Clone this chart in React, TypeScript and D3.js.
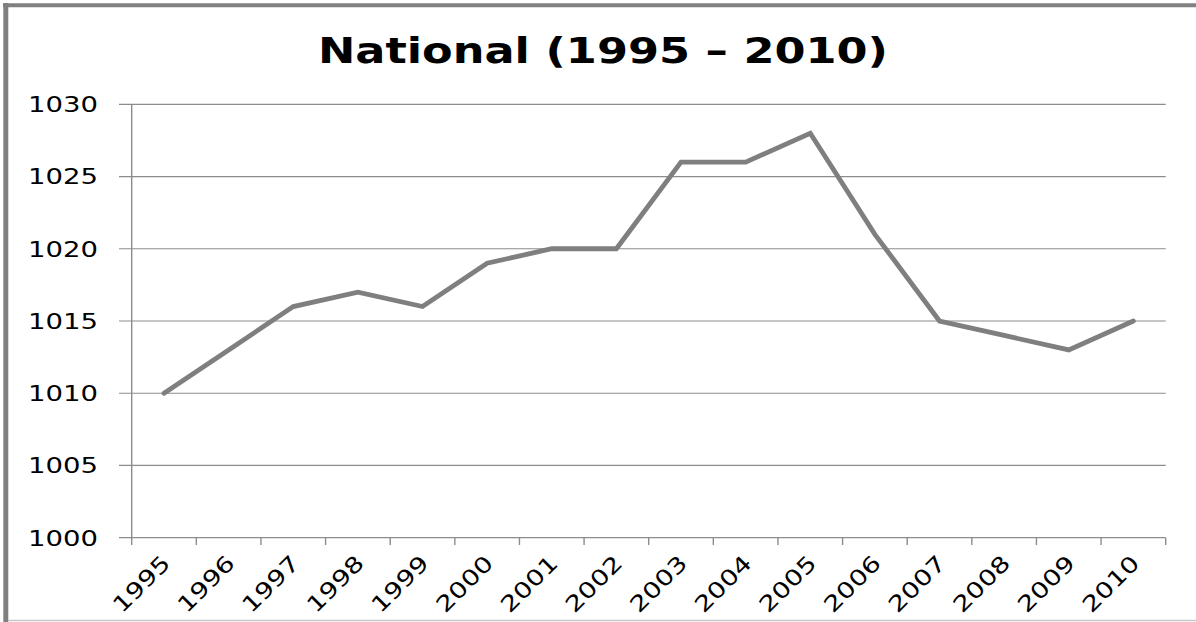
import React from "react";
import * as d3 from "d3";

const years = ["1995","1996","1997","1998","1999","2000","2001","2002","2003","2004","2005","2006","2007","2008","2009","2010"];
const values = [1010,1013,1016,1017,1016,1019,1020,1020,1026,1026,1028,1021,1015,1014,1013,1015];
const yTicks = [1000,1005,1010,1015,1020,1025,1030];
const title = "National (1995 \u2013 2010)";

export default function App() {
  const W = 1196, H = 622;
  const left = 131.7, right = 1165.7, top = 104.3, bottom = 537.7;
  const x = d3.scaleBand<string>().domain(years).range([left, right]).paddingInner(0).paddingOuter(0);
  const y = d3.scaleLinear().domain([1000, 1030]).range([bottom, top]);
  const line = d3.line<number>()
    .x((_, i) => (x(years[i]) as number) + x.bandwidth() / 2)
    .y((d) => y(d));
  const boundaries = years.map((yr) => x(yr) as number).concat([right]);
  const font = "'DejaVu Sans', Verdana, sans-serif";
  return (
    <svg width={W} height={H} style={{ position: "fixed", left: 0, top: 0, background: "#fff" }}>
      <rect x={0} y={0} width={W} height={H} fill="#fff" />
      {/* frame */}
      <line x1={3} x2={W} y1={5.3} y2={5.3} stroke="#808080" strokeWidth={4} />
      <line x1={5.8} x2={5.8} y1={3} y2={H} stroke="#808080" strokeWidth={5} />
      <line x1={8} x2={W} y1={620.5} y2={620.5} stroke="#c8c8c8" strokeWidth={1.5} />
      {/* title */}
      <text x={603} y={63} textAnchor="middle" fontFamily={font} fontWeight="bold" fontSize={36}
        textLength={570} lengthAdjust="spacingAndGlyphs" fill="#000">{title}</text>
      {/* gridlines and y ticks */}
      {yTicks.map((t) => (
        <g key={t}>
          <line x1={119} x2={right} y1={y(t)} y2={y(t)} stroke="#8c8c8c" strokeWidth={1.2} />
          <text x={98} y={y(t)} dy="0.36em" textAnchor="end" fontFamily={font} fontSize={22}
            textLength={70} lengthAdjust="spacingAndGlyphs" fill="#000">{t}</text>
        </g>
      ))}
      {/* y axis */}
      <line x1={left} x2={left} y1={top} y2={bottom} stroke="#8c8c8c" strokeWidth={1.4} />
      {/* x tick marks */}
      {boundaries.map((b, i) => (
        <line key={i} x1={b} x2={b} y1={bottom} y2={545} stroke="#8c8c8c" strokeWidth={1.4} />
      ))}
      {/* x labels */}
      {years.map((yr) => {
        const cx = (x(yr) as number) + x.bandwidth() / 2 + 2;
        const cy = 559;
        return (
          <text key={yr} x={cx} y={cy} transform={`rotate(-45 ${cx} ${cy})`} textAnchor="end"
            dy="0.36em" fontFamily={font} fontSize={22} textLength={70} lengthAdjust="spacingAndGlyphs"
            fill="#000">{yr}</text>
        );
      })}
      {/* series */}
      <path d={line(values) || ""} fill="none" stroke="#7f7f7f" strokeWidth={4.8}
        strokeLinejoin="miter" strokeLinecap="round" />
    </svg>
  );
}
